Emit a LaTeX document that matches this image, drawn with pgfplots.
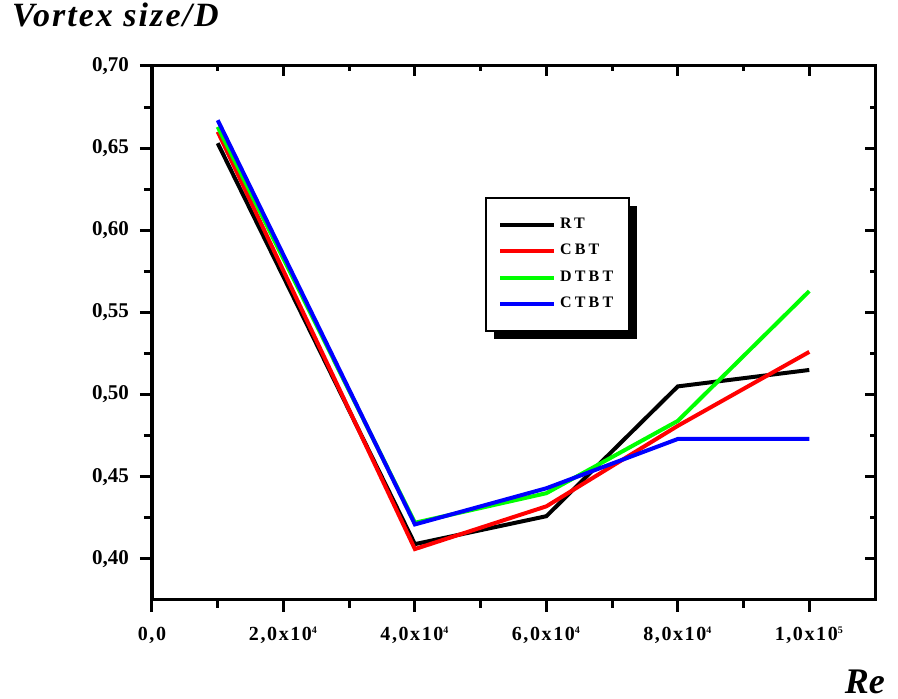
\documentclass[border=0pt]{standalone}
\usepackage{fontspec}
\setmainfont{Liberation Serif}
\newfontfamily\xtickfont[LetterSpace=8]{Liberation Serif}
\newfontfamily\legfont[LetterSpace=20]{Liberation Serif}
\newfontfamily\titlefont[LetterSpace=6]{Liberation Serif}
\usepackage{pgfplots}
\pgfplotsset{compat=1.18}
\usetikzlibrary{shadows}
\makeatletter
\tikzset{nopreaction/.code={\let\tikz@preactions\pgfutil@empty}}
\makeatother
\begin{document}
\begin{tikzpicture}
\useasboundingbox (-76pt,-49.5pt) rectangle (373pt,300pt);
% inner ticks on top and right
\begin{axis}[
  scale only axis, width=361.5pt, height=267pt,
  xmin=0, xmax=110000, ymin=0.375, ymax=0.70,
  scaled x ticks=false, scaled y ticks=false,
  axis line style={line width=1.5pt},
  tick pos=right, tick align=inside,
  major tick length=5pt, minor tick length=2.5pt,
  every tick/.style={black, line width=1.5pt},
  xtick={0,20000,40000,60000,80000,100000},
  minor xtick={10000,30000,50000,70000,90000},
  ytick={0.40,0.45,0.50,0.55,0.60,0.65,0.70},
  minor ytick={0.425,0.475,0.525,0.575,0.625,0.675},
  xticklabels={}, yticklabels={},
]
\end{axis}
\begin{axis}[
  scale only axis, width=361.5pt, height=267pt,
  xmin=0, xmax=110000, ymin=0.375, ymax=0.70,
  scaled x ticks=false, scaled y ticks=false,
  axis line style={line width=1.5pt},
  tick pos=left, tick align=outside,
  major tick length=6pt, minor tick length=4pt,
  every tick/.style={black, line width=1.5pt},
  xtick={0,20000,40000,60000,80000,100000},
  minor xtick={10000,30000,50000,70000,90000},
  xticklabels={{0,0},{2,0x10\textsuperscript{\fontsize{5}{5}\selectfont 4}},{4,0x10\textsuperscript{\fontsize{5}{5}\selectfont 4}},{6,0x10\textsuperscript{\fontsize{5}{5}\selectfont 4}},{8,0x10\textsuperscript{\fontsize{5}{5}\selectfont 4}},{1,0x10\textsuperscript{\fontsize{5}{5}\selectfont 5}}},
  ytick={0.40,0.45,0.50,0.55,0.60,0.65,0.70},
  minor ytick={0.425,0.475,0.525,0.575,0.625,0.675},
  yticklabels={{0,40},{0,45},{0,50},{0,55},{0,60},{0,65},{0,70}},
  xticklabel style={font=\xtickfont\bfseries\fontsize{10}{12}\selectfont, yshift=-4pt},
  yticklabel style={font=\bfseries\fontsize{10.5}{12}\selectfont, xshift=-2pt},
  legend style={at={(rel axis cs:0.4606,0.755)}, anchor=north west,
    draw=black, line width=1pt, fill=white,
    drop shadow={shadow xshift=4pt, shadow yshift=-4pt, opacity=1, fill=black},
    font=\legfont\bfseries\fontsize{8}{8}\selectfont,
    row sep=2.5pt, inner ysep=8pt, inner xsep=6pt,
    cells={anchor=west}},
  legend image code/.code={\draw[nopreaction, #1, line width=2pt] (0pt,0pt) -- (27pt,0pt);},
]
\addplot[black, line width=2pt] coordinates {(10000,0.653) (40000,0.409) (60000,0.426) (80000,0.505) (100000,0.515)};
\addlegendentry{RT}
\addplot[red, line width=2pt] coordinates {(10000,0.660) (40000,0.406) (60000,0.432) (80000,0.481) (100000,0.526)};
\addlegendentry{CBT}
\addplot[green, line width=2pt] coordinates {(10000,0.663) (40000,0.422) (60000,0.440) (80000,0.484) (100000,0.563)};
\addlegendentry{DTBT}
\addplot[blue, line width=2pt] coordinates {(10000,0.667) (40000,0.421) (60000,0.443) (80000,0.473) (100000,0.473)};
\addlegendentry{CTBT}
\end{axis}
\node[anchor=base west, font=\titlefont\bfseries\itshape\fontsize{17}{18}\selectfont] at (-73.5pt,286.5pt) {Vortex size/D};
\node[anchor=base east, font=\bfseries\itshape\fontsize{18}{18}\selectfont] at (370pt,-47pt) {Re};
\end{tikzpicture}
\end{document}
